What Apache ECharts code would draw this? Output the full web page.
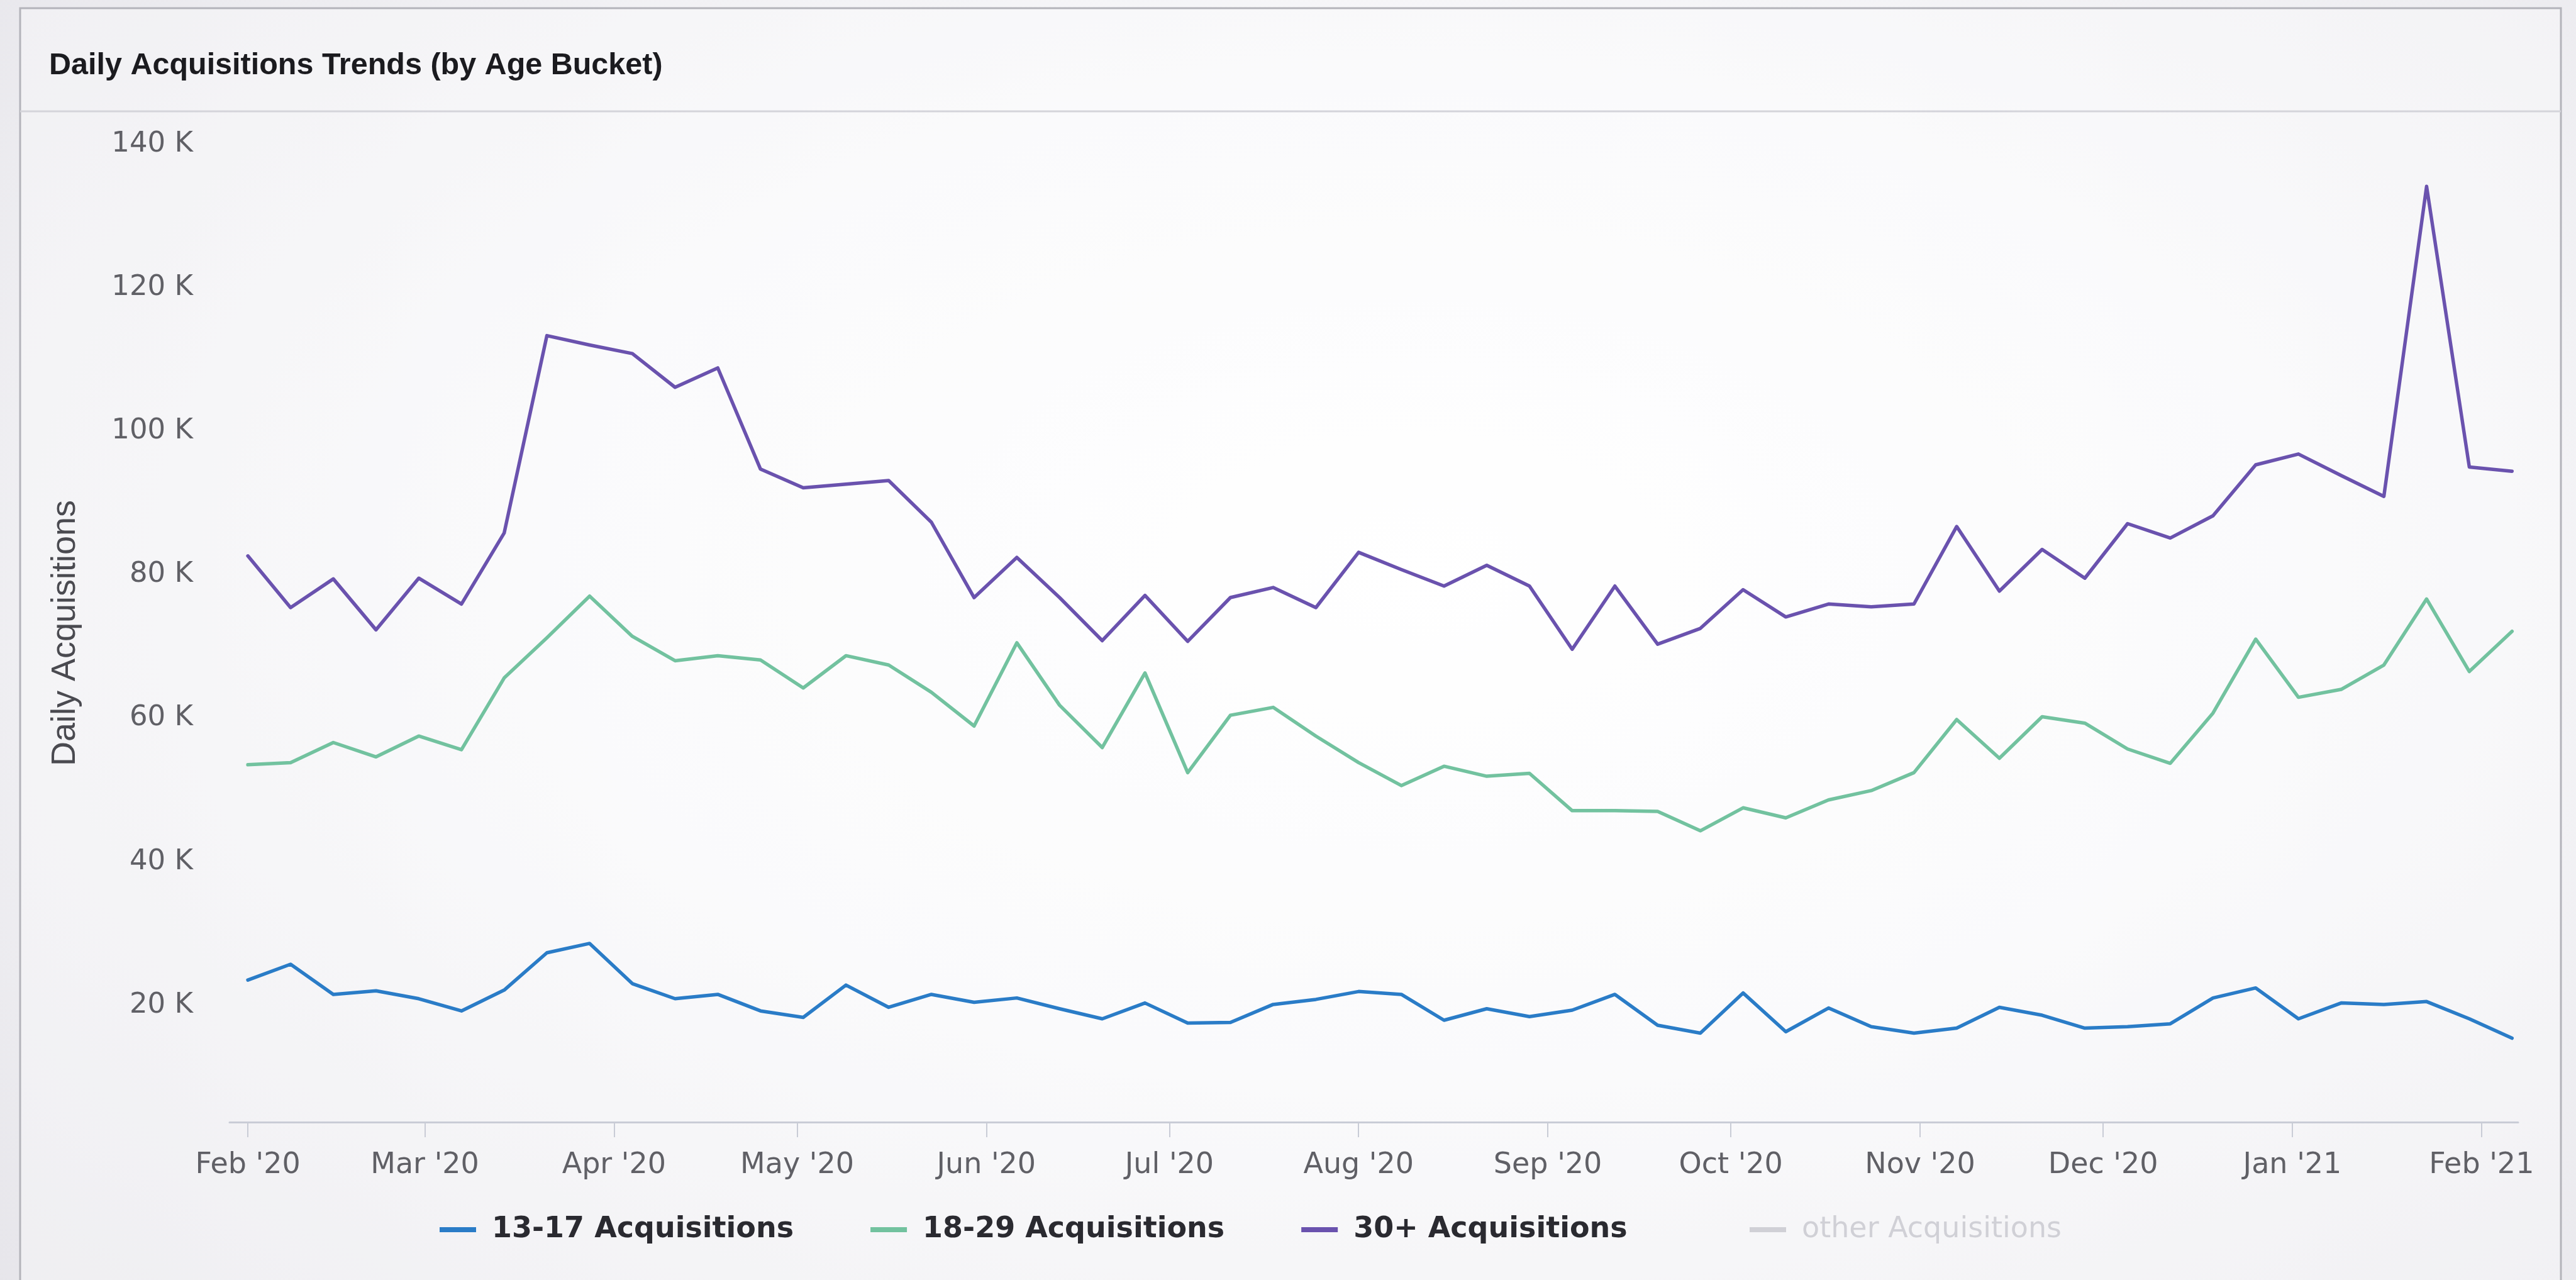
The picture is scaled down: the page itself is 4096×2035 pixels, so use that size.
<!DOCTYPE html>
<html>
<head>
<meta charset="utf-8">
<title>Daily Acquisitions Trends (by Age Bucket)</title>
<script src="https://cdn.jsdelivr.net/npm/echarts@6/dist/echarts.min.js"></script>
<style>
  html, body { margin: 0; padding: 0; width: 100%; height: 100%; overflow: hidden; }
  body { background: radial-gradient(ellipse 75% 85% at 55% 45%, #ffffff 0%, #f8f8fa 45%, #e6e5ea 100%); }
  #chart { width: 4096px; height: 2035px; }
</style>
</head>
<body>
<div id="chart"></div>
<script>
// Week-ending dates of the weekly acquisition totals
const weekDates = [
  '2020-02-01', '2020-02-08', '2020-02-15', '2020-02-22', '2020-02-29',
  '2020-03-07', '2020-03-14', '2020-03-21', '2020-03-28',
  '2020-04-04', '2020-04-11', '2020-04-18', '2020-04-25',
  '2020-05-02', '2020-05-09', '2020-05-16', '2020-05-23', '2020-05-30',
  '2020-06-06', '2020-06-13', '2020-06-20', '2020-06-27',
  '2020-07-04', '2020-07-11', '2020-07-18', '2020-07-25',
  '2020-08-01', '2020-08-08', '2020-08-15', '2020-08-22', '2020-08-29',
  '2020-09-05', '2020-09-12', '2020-09-19', '2020-09-26',
  '2020-10-03', '2020-10-10', '2020-10-17', '2020-10-24', '2020-10-31',
  '2020-11-07', '2020-11-14', '2020-11-21', '2020-11-28',
  '2020-12-05', '2020-12-12', '2020-12-19', '2020-12-26',
  '2021-01-02', '2021-01-09', '2021-01-16', '2021-01-23', '2021-01-30',
  '2021-02-06'
];

// Daily acquisitions per age bucket
const acq13to17 = [
  23500, 25700, 21500, 22000, 20900, 19200, 22100, 27300, 28600, 23000, 20900, 21500, 19200, 18300,
  22800, 19700, 21500, 20400, 21000, 19500, 18100, 20300, 17500, 17600, 20100, 20800, 21900,
  21500, 17900, 19500, 18400, 19300, 21500, 17200, 16100, 21700, 16300, 19600, 17000, 16100,
  16800, 19700, 18600, 16800, 17000, 17400, 21000, 22400, 18100, 20300, 20100, 20500, 18100, 15400
];
const acq18to29 = [
  53500, 53800, 56600, 54600, 57500, 55600, 65600, 71200, 77000, 71400, 68000, 68700, 68100, 64200,
  68700, 67400, 63600, 58900, 70500, 61800, 55900, 66300, 52400, 60400, 61500, 57500, 53800,
  50600, 53300, 51900, 52300, 47100, 47100, 47000, 44300, 47500, 46100, 48600, 49900, 52400,
  59800, 54400, 60200, 59300, 55700, 53700, 60700, 71000, 62900, 64000, 67400, 76600, 66500, 72100
];
const acq30plus = [
  82600, 75400, 79400, 72300, 79500, 75900, 85800, 113300, 112000, 110800, 106100, 108800, 94700, 92100,
  92600, 93100, 87300, 76800, 82400, 76800, 70800, 77100, 70700, 76800, 78200, 75400, 83100,
  80700, 78400, 81300, 78400, 69600, 78400, 70300, 72500, 77900, 74100, 75900, 75500, 75900,
  86700, 77700, 83500, 79500, 87100, 85100, 88200, 95300, 96800, 93800, 90900, 134100, 95000, 94400
];

// Month ticks along the date axis and their labels
const monthTicks = [
  '2020-02-01', '2020-03-01', '2020-04-01', '2020-05-01', '2020-06-01', '2020-07-01', '2020-08-01',
  '2020-09-01', '2020-10-01', '2020-11-01', '2020-12-01', '2021-01-01', '2021-02-01'
];
const monthLabels = [
  "Feb '20", "Mar '20", "Apr '20", "May '20", "Jun '20", "Jul '20", "Aug '20",
  "Sep '20", "Oct '20", "Nov '20", "Dec '20", "Jan '21", "Feb '21"
];
const yTicks = [20000, 40000, 60000, 80000, 100000, 120000, 140000];

const seriesNames = ['13-17 Acquisitions', '18-29 Acquisitions', '30+ Acquisitions', 'other Acquisitions'];
const seriesColors = ['#2a7cc7', '#72c29f', '#6a52ae', '#c8c8cc'];

function utc(s) {
  const p = s.split('-').map(Number);
  return Date.UTC(p[0], p[1] - 1, p[2]);
}

const weekTs = weekDates.map(utc);
const monthTs = monthTicks.map(utc);
const pairs = (vals) => weekTs.map((t, i) => [t, vals[i]]);

const chart = echarts.init(document.getElementById('chart'), null, { renderer: 'canvas' });

function lineSeries(idx, vals) {
  return {
    name: seriesNames[idx],
    type: 'line',
    data: vals ? pairs(vals) : [],
    showSymbol: false,
    symbol: 'none',
    color: seriesColors[idx],
    lineStyle: { width: 5.5, color: seriesColors[idx], join: 'round', cap: 'round' },
    emphasis: { disabled: true },
    z: 3
  };
}

const legendCommon = {
  top: 1927,
  itemWidth: 58,
  itemHeight: 8,
  icon: 'rect',
  inactiveColor: '#d0d0d6',
  selected: { 'other Acquisitions': false }
};

chart.setOption({
  animation: false,
  backgroundColor: 'transparent',
  title: {
    text: 'Daily Acquisitions Trends (by Age Bucket)',
    left: 78,
    top: 80,
    padding: 0,
    textStyle: { fontFamily: 'Liberation Sans', fontWeight: 'bold', fontSize: 48.5, color: '#1b1b1f' }
  },
  graphic: [
    {
      type: 'rect', silent: true, z: -10,
      shape: { x: 32, y: 13, width: 4040, height: 2100 },
      style: { fill: 'rgba(255,255,255,0.35)', stroke: '#b3b3ba', lineWidth: 3 }
    },
    {
      type: 'line', silent: true, z: -9,
      shape: { x1: 32, y1: 177, x2: 4072, y2: 177 },
      style: { stroke: '#d4d4da', lineWidth: 3 }
    }
  ],
  legend: [
    Object.assign({}, legendCommon, {
      left: 694,
      itemGap: 122,
      data: seriesNames.slice(0, 3),
      textStyle: {
        fontFamily: 'DejaVu Sans', fontWeight: 'bold', fontSize: 46, color: '#2a2a30',
        padding: [0, 0, 0, 20]
      }
    }),
    Object.assign({}, legendCommon, {
      left: 2777,
      data: seriesNames.slice(3),
      textStyle: {
        fontFamily: 'DejaVu Sans', fontWeight: 'normal', fontSize: 46, color: '#2a2a30',
        padding: [0, 0, 0, 20]
      }
    })
  ],
  grid: { left: 365, right: 92, top: 229, bottom: 251, containLabel: false },
  xAxis: {
    type: 'value',
    min: utc('2020-01-29'),
    max: utc('2021-02-07'),
    axisLine: { show: true, lineStyle: { color: '#c9ccd6', width: 3 } },
    axisTick: { show: true, customValues: monthTs, length: 24, lineStyle: { color: '#c9ccd6', width: 2 } },
    splitLine: { show: false },
    axisLabel: {
      customValues: monthTs,
      margin: 46,
      fontFamily: 'DejaVu Sans', fontSize: 46, color: '#606066',
      formatter: function (v) {
        const i = monthTs.indexOf(v);
        return i >= 0 ? monthLabels[i] : '';
      }
    }
  },
  yAxis: {
    type: 'value',
    min: 3700,
    max: 140000,
    name: 'Daily Acquisitions',
    nameLocation: 'middle',
    nameRotate: 90,
    nameGap: 234,
    nameTextStyle: { fontFamily: 'Liberation Sans', fontSize: 54, color: '#4a4a50' },
    axisLine: { show: false },
    axisTick: { show: false },
    splitLine: { show: false },
    axisLabel: {
      customValues: yTicks,
      margin: 58,
      fontFamily: 'DejaVu Sans', fontSize: 45, color: '#606066',
      formatter: function (v) { return (v / 1000) + ' K'; }
    }
  },
  series: [
    lineSeries(0, acq13to17),
    lineSeries(1, acq18to29),
    lineSeries(2, acq30plus),
    lineSeries(3, null)
  ]
});
</script>
</body>
</html>
